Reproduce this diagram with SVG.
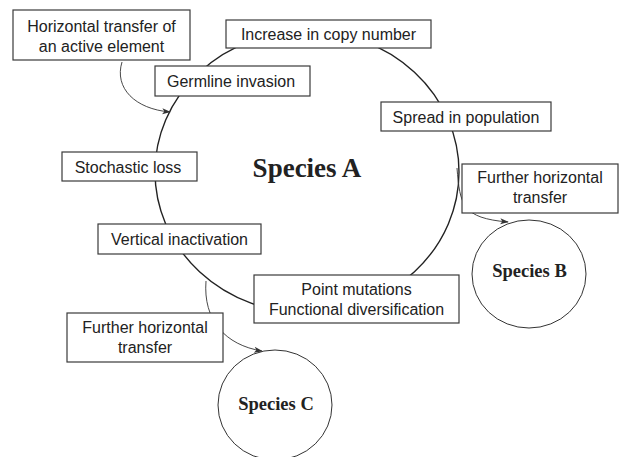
<svg xmlns="http://www.w3.org/2000/svg" width="619" height="457" viewBox="0 0 619 457">
<style>
.box{fill:#fff;stroke:#3a3a3a;stroke-width:1.2}
.lbl{font-family:"Liberation Sans",Arial,sans-serif;font-size:16px;fill:#222}
.sp{font-family:"Liberation Serif","Times New Roman",serif;font-weight:bold;fill:#222}
.conn{fill:none;stroke:#333;stroke-width:0.9}
</style>
<defs>
<marker id="arr" viewBox="0 0 10 8" refX="9" refY="4" markerWidth="9" markerHeight="7" markerUnits="userSpaceOnUse" orient="auto">
<path d="M0,0.5 L10,4 L0,7.5 L2.5,4 z" fill="#333"/>
</marker>
</defs>
<rect width="619" height="457" fill="#fff"/>
<g id="speciesA">
<ellipse cx="307" cy="172" rx="152" ry="141" fill="none" stroke="#222" stroke-width="1.4"/>
<text class="sp" x="307" y="177" font-size="27" text-anchor="middle">Species A</text>
</g>
<g id="connectors">
<path class="conn" d="M122,62 C114,88 135,109 170,112" marker-end="url(#arr)"/>
<path class="conn" d="M457,168 C460,205 462,218 508,222" marker-end="url(#arr)"/>
<path class="conn" d="M206,281 C203,320 225,345 262,351" marker-end="url(#arr)"/>
</g>
<g id="horizontalTransfer">
<rect class="box" x="13" y="10" width="177" height="50"/>
<text class="lbl" x="101.5" y="31.5" text-anchor="middle">Horizontal transfer of</text>
<text class="lbl" x="101.5" y="51.5" text-anchor="middle">an active element</text>
</g>
<g id="increaseCopy">
<rect class="box" x="226" y="20" width="205" height="28"/>
<text class="lbl" x="328.5" y="40" text-anchor="middle">Increase in copy number</text>
</g>
<g id="germline">
<rect class="box" x="155" y="66" width="155" height="30"/>
<text class="lbl" x="231" y="87" text-anchor="middle">Germline invasion</text>
</g>
<g id="spread">
<rect class="box" x="381" y="102" width="170" height="29"/>
<text class="lbl" x="466" y="122.5" text-anchor="middle">Spread in population</text>
</g>
<g id="stochastic">
<rect class="box" x="62" y="152" width="135" height="29"/>
<text class="lbl" x="128" y="172.5" text-anchor="middle">Stochastic loss</text>
</g>
<g id="vertical">
<rect class="box" x="98" y="224" width="163" height="30"/>
<text class="lbl" x="179.5" y="245" text-anchor="middle">Vertical inactivation</text>
</g>
<g id="pointMutations">
<rect class="box" x="254" y="275" width="205" height="48"/>
<text class="lbl" x="356.5" y="295" text-anchor="middle">Point mutations</text>
<text class="lbl" x="356.5" y="315" text-anchor="middle">Functional diversification</text>
</g>
<g id="furtherB">
<rect class="box" x="462" y="164" width="156" height="49"/>
<text class="lbl" x="540" y="183" text-anchor="middle">Further horizontal</text>
<text class="lbl" x="540" y="203" text-anchor="middle">transfer</text>
</g>
<g id="furtherC">
<rect class="box" x="67" y="313" width="156" height="49"/>
<text class="lbl" x="145" y="333" text-anchor="middle">Further horizontal</text>
<text class="lbl" x="145" y="353" text-anchor="middle">transfer</text>
</g>
<g id="speciesB">
<ellipse cx="529" cy="274" rx="57" ry="54" fill="none" stroke="#333" stroke-width="1"/>
<text class="sp" x="529.5" y="277" font-size="18.5" text-anchor="middle">Species B</text>
</g>
<g id="speciesC">
<ellipse cx="275" cy="405" rx="57" ry="55" fill="none" stroke="#333" stroke-width="1"/>
<text class="sp" x="276" y="410" font-size="18.5" text-anchor="middle">Species C</text>
</g>
</svg>
